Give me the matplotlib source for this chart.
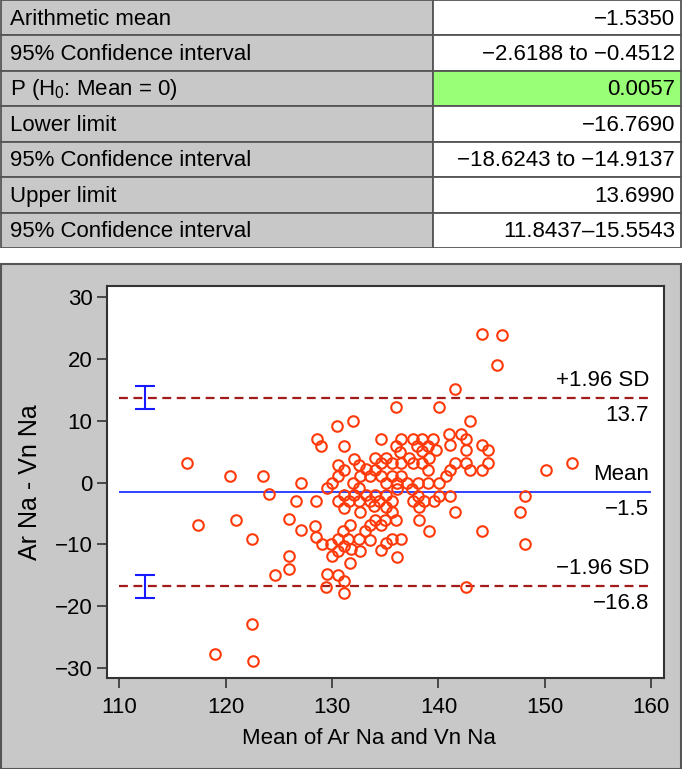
import matplotlib.pyplot as plt
from matplotlib.patches import Rectangle

plt.rcParams['font.family'] = ['Liberation Sans', 'DejaVu Sans']
plt.rcParams['mathtext.fontset'] = 'custom'
plt.rcParams['mathtext.rm'] = 'Liberation Sans'

# summary table
row_labels = ['Arithmetic mean', '95% Confidence interval', r'P (H$_\mathrm{0}$: Mean = 0)',
              'Lower limit', '95% Confidence interval', 'Upper limit', '95% Confidence interval']
row_values = ['\u22121.5350', '\u22122.6188 to \u22120.4512', '0.0057', '\u221216.7690',
              '\u221218.6243 to \u221214.9137', '13.6990', '11.8437\u201315.5543']
highlight = [False, False, True, False, False, False, False]

# Bland-Altman statistics
mean_diff = -1.5350
lower_limit = -16.7690
upper_limit = 13.6990
ci_lower = [-18.6243, -14.9137]
ci_upper = [11.8437, 15.5543]

# scatter points: mean of the two methods, difference
pts = [
    (116.4, 3.2), (120.4, 1.1), (123.5, 1.1), (127.1, 0.0), (124.1, -1.9), (126.6, -2.9),
    (128.5, -3.0), (117.4, -6.9), (121.0, -6.0), (126.0, -5.9), (127.1, -7.7), (122.5, -9.1),
    (128.4, -7.0), (128.5, -8.8), (129.1, -10.0), (126.0, -11.9), (126.0, -13.9), (124.6, -14.9),
    (129.5, -14.7), (129.4, -16.9), (122.5, -22.9), (119.0, -27.7), (122.6, -28.8), (130.6, -15.0),
    (131.1, -15.9), (131.1, -17.8), (131.7, -13.0), (129.9, -10.0), (130.0, -11.9), (130.6, -11.1),
    (130.6, -9.1), (131.0, -7.8), (131.1, -10.3), (131.7, -6.9), (131.5, -9.1), (131.8, -10.8),
    (132.6, -11.0), (132.5, -9.1), (133.1, -7.8), (133.6, -9.2), (133.6, -6.9), (134.0, -6.0),
    (134.6, -6.9), (134.6, -10.9), (135.0, -6.0), (135.1, -9.8), (135.6, -9.1), (136.1, -12.0),
    (132.6, -4.8), (133.9, -3.8), (135.1, -4.0), (135.6, -4.8), (136.0, -6.0), (131.1, -4.1),
    (130.6, -3.0), (131.6, -3.0), (132.5, -3.0), (133.6, -2.9), (134.4, -2.9), (135.1, -2.0),
    (135.6, -3.0), (132.1, -2.0), (133.2, -2.0), (134.0, -2.0), (131.1, -2.0), (129.5, -0.9),
    (130.0, 0.0), (130.6, 1.0), (131.1, 2.0), (130.6, 2.9), (132.0, 0.0), (132.6, 1.0),
    (132.5, -0.9), (133.6, 1.0), (134.6, 1.0), (135.1, 0.0), (135.6, 1.0), (136.1, 0.0),
    (134.0, 2.0), (133.2, 2.2), (132.5, 2.9), (132.1, 3.9), (134.0, 4.0), (134.6, 3.1),
    (135.1, 4.0), (135.6, 3.1), (136.1, -1.0),
    (136.0, 12.2), (130.5, 9.1), (132.0, 10.0), (128.6, 7.0), (129.0, 6.0), (131.1, 6.0),
    (134.6, 7.1), (136.0, 6.0), (136.4, 4.9),
    (144.1, 24.0), (146.0, 23.9), (145.5, 19.0), (141.6, 15.2), (140.1, 12.2), (143.0, 9.9),
    (141.0, 7.9), (142.1, 7.9), (142.6, 7.0), (144.1, 6.1), (144.7, 5.2), (141.1, 6.1),
    (142.6, 5.2), (136.5, 7.0), (137.6, 7.0), (138.5, 7.0), (139.5, 7.0), (138.0, 6.0),
    (139.0, 6.0), (138.5, 5.1), (139.8, 5.2), (137.2, 4.0), (139.1, 4.0), (136.5, 3.2),
    (137.6, 3.2), (138.5, 3.1), (141.6, 3.1), (142.6, 3.1), (144.7, 3.1), (152.6, 3.1),
    (150.1, 2.1), (141.1, 2.1), (143.0, 2.1), (144.1, 2.0), (139.0, 2.0), (136.5, 1.0),
    (140.7, 1.0), (140.1, 0.0), (138.1, 0.0), (139.0, 0.0), (137.0, 0.0), (137.5, -1.0),
    (138.1, -2.1), (140.1, -2.1), (141.1, -2.1), (148.1, -2.1), (137.6, -3.0), (138.6, -3.0),
    (139.6, -3.0), (138.2, -3.9), (141.6, -4.7), (147.7, -4.8), (138.2, -6.0), (139.1, -7.8),
    (144.1, -7.8), (148.1, -9.9), (136.5, -9.1), (142.6, -16.9),
]
means = [p[0] for p in pts]
diffs = [p[1] for p in pts]

W, H = 682, 769
fs = 16
fig = plt.figure(figsize=(W / 100, H / 100), dpi=100)

# grey panel behind the plot
fig.patches.append(Rectangle((0.5 / W, 0.5 / H), (W - 1.5) / W, (H - 264) / H,
                             transform=fig.transFigure, fc='#c8c8c8', ec='#555555',
                             lw=1.5, zorder=-10))

# table
tax = fig.add_axes([0, 1 - 248 / H, 1, 248 / H])
tax.set_xlim(0, W)
tax.set_ylim(len(row_labels), 0)
tax.axis('off')
split = 433
for i, (lab, val) in enumerate(zip(row_labels, row_values)):
    tax.add_patch(Rectangle((1, i), split - 1, 1, fc='#c8c8c8', ec='#555555', lw=1.3))
    tax.add_patch(Rectangle((split, i), W - split - 1.5, 1,
                            fc='#99ff77' if highlight[i] else 'white', ec='#555555', lw=1.3))
    tax.text(10, i + 0.54, lab, fontsize=fs, va='center', ha='left')
    tax.text(W - 7, i + 0.54, val, fontsize=fs, va='center', ha='right')

# Bland-Altman plot
ax = fig.add_axes([107 / W, 1 - 678 / H, (664 - 107) / W, (678 - 286) / H])
ax.plot(means, diffs, 'o', mfc='none', mec='#ff3a0a', ms=7.6, mew=1.5, zorder=3)

ax.hlines(mean_diff, 110, 160, color='#2233ff', lw=1.3, zorder=2)
ax.hlines([upper_limit, lower_limit], 110, 160, color='#a31a1a', lw=1.6,
          linestyle=(0, (4, 2.5)), zorder=2)

for lim, ci in [(upper_limit, ci_upper), (lower_limit, ci_lower)]:
    ax.errorbar([112.4], [lim], yerr=[[lim - ci[0]], [ci[1] - lim]], fmt='none',
                ecolor='#1a1aff', elinewidth=1.5, capsize=7.5, capthick=1.5, zorder=4)

labels = [(upper_limit, '+1.96 SD', '13.7'), (mean_diff, 'Mean', '\u22121.5'),
          (lower_limit, '\u22121.96 SD', '\u221216.8')]
for yv, top, bot in labels:
    ax.annotate(top, (159.8, yv), xytext=(0, 5), textcoords='offset points',
                ha='right', va='bottom', fontsize=fs)
    ax.annotate(bot, (159.8, yv), xytext=(0, -5), textcoords='offset points',
                ha='right', va='top', fontsize=fs)

ax.set_xlim(108.85, 161.2)
ax.set_ylim(-31.6, 31.8)
ax.set_xticks([110, 120, 130, 140, 150, 160])
ax.set_yticks([-30, -20, -10, 0, 10, 20, 30])
ax.tick_params(labelsize=fs, length=7, width=1.2, color='#333333')
ax.tick_params(axis='x', pad=7)
for s in ax.spines.values():
    s.set_linewidth(1.5)
    s.set_color('#333333')
ax.set_xlabel('Mean of Ar Na and Vn Na', fontsize=fs)
ax.xaxis.set_label_coords((369 - 107) / 557, -(738 - 678) / 392)
ax.set_ylabel('Ar Na - Vn Na', fontsize=18)
ax.yaxis.set_label_coords(-(107 - 30) / 557, 0.5)
ax.xaxis.label.set_va('center')
ax.yaxis.label.set_va('center')

fig.savefig('out.png', dpi=100)
